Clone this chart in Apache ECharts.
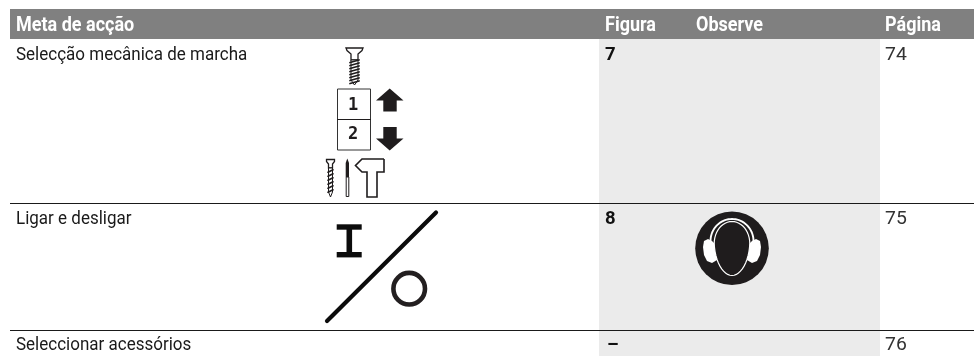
<!DOCTYPE html>
<html><head><meta charset="utf-8">
<style>html,body{margin:0;padding:0;background:#fff}#c{width:974px;height:356px}</style>
<script src="https://cdn.jsdelivr.net/npm/echarts@6/dist/echarts.min.js"></script>
</head><body><div id="c"></div>
<script>
const headers = ["Meta de acção", "Figura", "Observe", "Página"];
const actions = ["Selecção mecânica de marcha", "Ligar e desligar", "Seleccionar acessórios"];
const figures = ["7", "8", "–"];
const pages = ["74", "75", "76"];

const FONT = '"Roboto", "Liberation Sans", sans-serif';
const INK = '#1f1c1d';
const G = [];
const rect = (x, y, w, h, fill) => G.push({type:'rect', shape:{x, y, width:w, height:h}, style:{fill}, silent:true});
const line = (x1, y1, x2, y2, w, c) => G.push({type:'line', shape:{x1, y1, x2, y2}, style:{stroke:c||INK, lineWidth:w, lineCap:'round'}, silent:true});
const poly = (points, fill, stroke, lw, smooth) => G.push({type:'polygon', shape:{points, smooth:smooth||0}, style:{fill:fill||'none', stroke:stroke||'none', lineWidth:lw||0}, silent:true});
const polyl = (points, lw, c) => G.push({type:'polyline', shape:{points}, style:{fill:'none', stroke:c||INK, lineWidth:lw, lineJoin:'miter'}, silent:true});
const text = (t, x, y, fontSize, fontWeight, fill, sx, family) => G.push({type:'text', x, y, scaleX:sx||1, style:{text:t, fontFamily:family||FONT, fontSize, fontWeight, fill, textVerticalAlign:'middle', textBaseline:'middle'}, silent:true});

// backgrounds
rect(10, 9, 964, 30, '#808080');
rect(599, 39, 281, 317, '#ebebeb');
// rules
rect(10, 203, 964, 1, '#1a1a1a');
rect(10, 330, 964, 1, '#1a1a1a');

// header
const headX = [16, 605, 696, 885];
headers.forEach((h, i) => text(h, headX[i], 25.5, 20, 700, '#ffffff', 0.9));

// rows
const rowY = [55.5, 219.5, 345.5];
actions.forEach((a, i) => {
  text(a, 16, rowY[i], 19, 400, '#1a1a1a', 0.895);
  text(figures[i], i === 2 ? 607 : 605, rowY[i], 18.5, 700, '#111', 1);
  text(pages[i], 885, rowY[i], 19, 400, '#333', 1.02);
});

// screw (top)
poly([[346,48],[363,48],[362,50.5],[358,54],[358,60],[351,60],[351,54],[347,50.5]], '#fff', INK, 1.3);
poly([[351,60],[358,60],[358,80],[354.5,85],[351,80]], '#fff', INK, 1);
[61,64,67,70,73,76,79,82].forEach(y => line(350, y+1.5, 359, y-1, 1.8));

// gear box
G.push({type:'rect', shape:{x:337.5, y:89, width:33, height:61}, style:{fill:'#fff', stroke:'#333', lineWidth:1}, silent:true});
line(337.5, 119.5, 370.5, 119.5, 1);
text('1', 348, 106, 17, 700, INK, 1, '"DejaVu Sans Mono"');
text('2', 348, 134.5, 17, 700, INK, 1, '"DejaVu Sans Mono"');
poly([[389.7,88.5],[403.5,100.5],[396.7,100.5],[396.7,111.5],[383.3,111.5],[383.3,100.5],[376,100.5]], INK);
poly([[383.3,127],[396.7,127],[396.7,138.5],[403.5,138.5],[389.7,150.5],[376,138.5],[383.3,138.5]], INK);

// bottom tools: screw
poly([[326.5,159.5],[334.5,159.5],[334.5,161.5],[332.5,164],[332.5,168],[328.5,168],[328.5,164],[326.5,161.5]], '#fff', INK, 1.3);
poly([[328.5,168],[332.5,168],[332.5,192],[330.5,197],[328.5,192]], '#fff', INK, 1);
[171,175,179,183,187,191].forEach(y => line(328, y+1.2, 333, y-1.2, 1.7));
// drill
poly([[347.3,158.5],[349,163],[349,177],[345.7,177],[345.7,163]], INK);
G.push({type:'rect', shape:{x:346.2, y:177, width:2.6, height:19.5}, style:{fill:'#fff', stroke:INK, lineWidth:1}, silent:true});
// hammer
polyl([[384,159],[362,159],[355.5,165.5],[362,172],[367,172],[367,197],[377,197],[377,172],[384,172],[384,159]], 1.6);

// on/off
rect(336.7, 224.3, 25, 5.4, '#0c0c0c');
rect(336.7, 252, 25, 5.4, '#0c0c0c');
rect(346.5, 227, 5.6, 28, '#0c0c0c');
line(327, 321, 436, 212.5, 4.2, '#0c0c0c');
G.push({type:'circle', shape:{cx:409.2, cy:288.7, r:15.8}, style:{fill:'none', stroke:'#231f20', lineWidth:4.6}, silent:true});

// hearing protection sign
const arcPts = (cx, cy, rx, ry, a0, a1, n) => {
  const p = [];
  for (let i = 0; i <= n; i++) { const t = (a0 + (a1 - a0) * i / n) * Math.PI / 180; p.push([cx + rx * Math.cos(t), cy + ry * Math.sin(t)]); }
  return p;
};
const egg = (cx, cy, a, top, bot, n) => {
  const p = [];
  for (let i = 0; i < n; i++) {
    const t = 2 * Math.PI * i / n, s = Math.sin(t);
    p.push([cx + a * Math.cos(t) * (s > 0 ? 1 - 0.06 * s : 1), cy + (s > 0 ? bot : top) * s]);
  }
  return p;
};
G.push({type:'circle', shape:{cx:732, cy:248.3, r:36.8}, style:{fill:INK}, silent:true});
polyl(arcPts(732, 241, 21.5, 22, 175, 365, 40), 1.9, '#fff');
poly([[708,239],[704,241],[703,247],[704,255],[707,261],[712,263],[717,260],[717,246],[712,241]], '#fff', null, 0);
poly([[756,239],[760,241],[761,247],[760,255],[757,261],[752,263],[747,260],[747,246],[752,241]], '#fff', null, 0);
poly(egg(732, 243.5, 17.8, 22, 32, 48), INK, '#fff', 1.2);

const chart = echarts.init(document.getElementById('c'), null, {renderer:'canvas'});
chart.setOption({animation:false, backgroundColor:'#fff', graphic:{elements:G}});
</script></body></html>
